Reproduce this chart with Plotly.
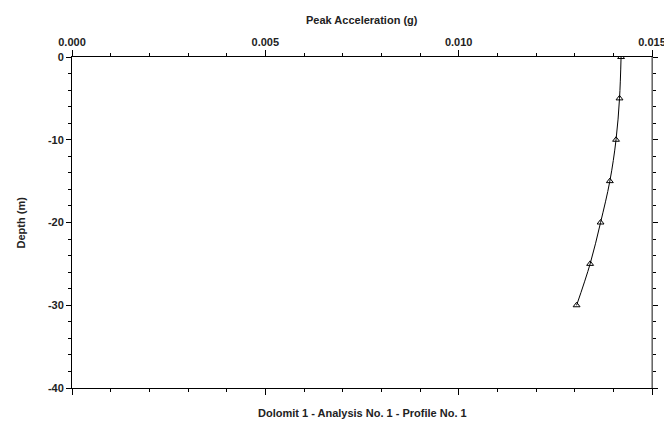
import plotly.graph_objects as go

depth = [0, -5, -10, -15, -20, -25, -30]
accel = [0.01420, 0.01416, 0.01407, 0.01391, 0.01367, 0.01340, 0.01305]

x_ticks = [0.0, 0.005, 0.010, 0.015]
x_ticklabels = ["0.000", "0.005", "0.010", "0.015"]
y_ticks = [0, -10, -20, -30, -40]
y_ticklabels = ["0", "-10", "-20", "-30", "-40"]

x_title = "Peak Acceleration (g)"
y_title = "Depth (m)"
bottom_title = "Dolomit 1 - Analysis No. 1 - Profile No. 1"

fam = "Liberation Sans, Arial, sans-serif"
tc = "#222"

fig = go.Figure()
fig.add_trace(go.Scatter(
    x=accel, y=depth, mode="lines+markers",
    line=dict(color="black", width=1, shape="spline"),
    marker=dict(symbol="triangle-up-open", size=6, color="black", line=dict(width=1)),
    showlegend=False,
))

fig.update_layout(
    width=664, height=421,
    margin=dict(l=72, r=12, t=57, b=33),
    paper_bgcolor="white", plot_bgcolor="white",
    font=dict(family=fam, size=11, color=tc),
    xaxis=dict(
        side="top", range=[0, 0.015], automargin=False, ticklabeloverflow="allow",
        tickvals=x_ticks, ticktext=["<b>" + t + "</b>" for t in x_ticklabels],
        ticks="outside", ticklen=6, tickwidth=1, tickcolor="black",
        minor=dict(dtick=0.001, tick0=0, ticks="outside", ticklen=3, tickcolor="black"),
        showline=True, linecolor="black", linewidth=1, mirror="ticks",
        showgrid=False, zeroline=False,
    ),
    yaxis=dict(
        range=[-40, 0], automargin=False, ticklabeloverflow="allow",
        tickvals=y_ticks, ticktext=["<b>" + t + "</b>" for t in y_ticklabels],
        ticks="outside", ticklen=5, tickwidth=1, tickcolor="black",
        minor=dict(dtick=2, tick0=0, ticks="outside", ticklen=3, tickcolor="black"),
        showline=True, linecolor="black", linewidth=1, mirror="ticks",
        showgrid=False, zeroline=False,
    ),
)

# grey right-hand frame edge, as in the reference
fig.add_shape(type="line", xref="paper", yref="paper", x0=1, x1=1, y0=0, y1=1,
              line=dict(color="#8a8a8a", width=1.5), layer="above")

fig.add_annotation(
    text="<b>" + x_title + "</b>", xref="paper", yref="paper",
    x=0.5, y=1, yshift=37, showarrow=False, yanchor="middle",
    font=dict(size=11, color=tc),
)
fig.add_annotation(
    text="<b>" + bottom_title + "</b>", xref="paper", yref="paper",
    x=0.5, y=0, yshift=-25, showarrow=False, yanchor="middle",
    font=dict(size=11, color=tc),
)
fig.add_annotation(
    text="<b>" + y_title + "</b>", xref="paper", yref="paper",
    x=0, xshift=-52, y=0.5, textangle=-90, showarrow=False, xanchor="center",
    font=dict(size=11, color=tc),
)

fig.write_html("out.html", config={"displayModeBar": False},
               post_script="document.body.style.margin='0';document.body.style.overflow='hidden';")
